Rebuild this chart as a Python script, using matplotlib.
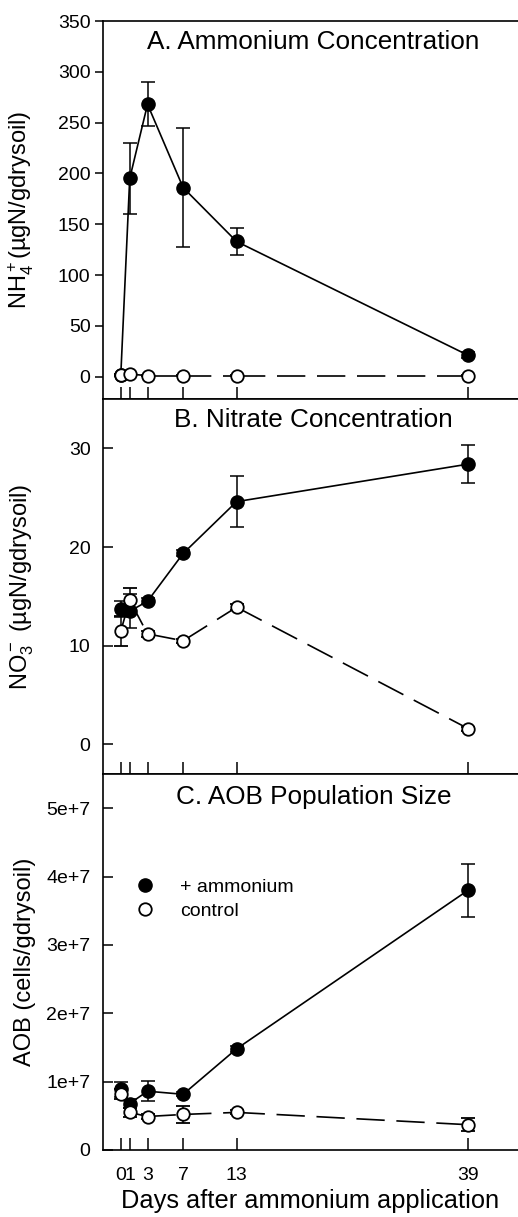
import matplotlib
matplotlib.use("Agg")
import matplotlib.pyplot as plt
from matplotlib.lines import Line2D
from matplotlib.ticker import FuncFormatter

plt.rcParams['font.family'] = ['Liberation Sans', 'DejaVu Sans']
plt.rcParams['mathtext.fontset'] = 'custom'
plt.rcParams['mathtext.rm'] = 'Liberation Sans'
plt.rcParams['mathtext.it'] = 'Liberation Sans:italic'
plt.rcParams['mathtext.bf'] = 'Liberation Sans:bold'

# data
days = [0, 1, 3, 7, 13, 39]
day_labels = ['0', '1', '3', '7', '13', '39']

nh4_amm = [2, 195, 268, 186, 133, 21]
nh4_amm_err = [1, 35, 21.5, 58.5, 13.5, 3]
nh4_ctl = [2, 2.5, 1, 1, 1, 1]
nh4_ctl_err = [0.5, 0.5, 0.5, 0.5, 0.5, 0.5]

no3_amm = [13.7, 13.5, 14.5, 19.35, 24.6, 28.4]
no3_amm_err = [0.8, 1.7, 0.3, 0.3, 2.6, 1.9]
no3_ctl = [11.5, 14.6, 11.2, 10.5, 13.9, 1.6]
no3_ctl_err = [1.5, 1.2, 0.3, 0.2, 0.3, 0.2]

aob_amm = [8.9e6, 6.8e6, 8.6e6, 8.15e6, 1.48e7, 3.8e7]
aob_amm_err = [1.1e6, 0.6e6, 1.45e6, 0.3e6, 0.4e6, 3.85e6]
aob_ctl = [8.2e6, 5.5e6, 4.9e6, 5.2e6, 5.5e6, 3.7e6]
aob_ctl_err = [0.7e6, 0.6e6, 0.3e6, 1.25e6, 0.3e6, 0.95e6]

W, H = 518, 1217
fig = plt.figure(figsize=(W / 100, H / 100), dpi=100)

left = 103 / W
width = (W - 103) / W
# (top px, bottom px) for each panel
boxes = [(21, 399), (399, 774), (774, 1150)]
axes = []
for top, bot in boxes:
    ax = fig.add_axes([left, 1 - bot / H, width, (bot - top) / H])
    axes.append(ax)

TICK_FS = 14
LAB_FS = 17
TITLE_FS = 18.8


def draw(ax, amm, amm_err, ctl, ctl_err):
    ax.errorbar(days, amm, yerr=amm_err, fmt='-o', color='black', mfc='black',
                mec='black', ms=9.5, lw=1.2, elinewidth=1.1, capsize=5,
                capthick=1.1, zorder=3)
    # control: dashed line, each segment starts fresh
    for i in range(len(days) - 1):
        ax.plot(days[i:i + 2], ctl[i:i + 2], color='black', lw=1.2,
                dashes=(17, 7), zorder=4)
    ax.errorbar(days, ctl, yerr=ctl_err, fmt='o', color='black', mfc='white',
                mec='black', mew=1.3, ms=9, elinewidth=1.1, capsize=5,
                capthick=1.1, zorder=5)
    ax.set_xlim(-2, 44.6)
    ax.set_xticks(days)
    ax.spines['right'].set_visible(False)
    for s in ['left', 'top', 'bottom']:
        ax.spines[s].set_linewidth(1.2)
    ax.tick_params(axis='x', direction='in', length=9, width=1.1)
    ax.tick_params(axis='y', width=1.1, labelsize=TICK_FS)
    ax.yaxis.set_label_coords(-0.162, 0.5)


ax1, ax2, ax3 = axes

draw(ax1, nh4_amm, nh4_amm_err, nh4_ctl, nh4_ctl_err)
ax1.set_ylim(-22, 350)
ax1.set_yticks([0, 50, 100, 150, 200, 250, 300, 350])
ax1.tick_params(axis='y', direction='out', length=6, pad=3)
ax1.set_xticklabels([])
ax1.set_ylabel(r'NH$_4^+$(µgN/gdrysoil)', fontsize=LAB_FS)
ax1.text(0.506, 0.944, 'A. Ammonium Concentration', transform=ax1.transAxes,
         ha='center', va='center', fontsize=TITLE_FS)

draw(ax2, no3_amm, no3_amm_err, no3_ctl, no3_ctl_err)
ax2.set_ylim(-3, 35)
ax2.set_yticks([0, 10, 20, 30])
ax2.tick_params(axis='y', direction='in', length=7, pad=9)
ax2.set_xticklabels([])
ax2.set_ylabel(r'NO$_3^-$ (µgN/gdrysoil)', fontsize=LAB_FS)
ax2.text(0.508, 0.944, 'B. Nitrate Concentration', transform=ax2.transAxes,
         ha='center', va='center', fontsize=TITLE_FS)

draw(ax3, aob_amm, aob_amm_err, aob_ctl, aob_ctl_err)
ax3.set_ylim(0, 5.5e7)
ax3.set_yticks([0, 1e7, 2e7, 3e7, 4e7, 5e7])
ax3.yaxis.set_major_formatter(FuncFormatter(
    lambda v, p: '0' if v == 0 else '%de+7' % round(v / 1e7)))
ax3.tick_params(axis='y', direction='in', length=7, pad=9)
ax3.set_xticklabels(day_labels, fontsize=TICK_FS)
ax3.tick_params(axis='x', pad=12)
ax3.set_ylabel('AOB (cells/gdrysoil)', fontsize=LAB_FS)
ax3.set_xlabel('Days after ammonium application', fontsize=18.3,
               labelpad=4)
ax3.text(0.508, 0.94, 'C. AOB Population Size', transform=ax3.transAxes,
         ha='center', va='center', fontsize=TITLE_FS)

handles = [Line2D([], [], ls='none', marker='o', ms=9.5, mfc='black', mec='black'),
           Line2D([], [], ls='none', marker='o', ms=9, mfc='white', mec='black', mew=1.3)]
ax3.legend(handles, ['+ ammonium', 'control'], loc='upper left',
           bbox_to_anchor=(0.077, 0.722), frameon=False, fontsize=TICK_FS,
           handlelength=1.0, handletextpad=1.3, labelspacing=0.3,
           borderaxespad=0, borderpad=0)

fig.savefig('out.png', dpi=100)
